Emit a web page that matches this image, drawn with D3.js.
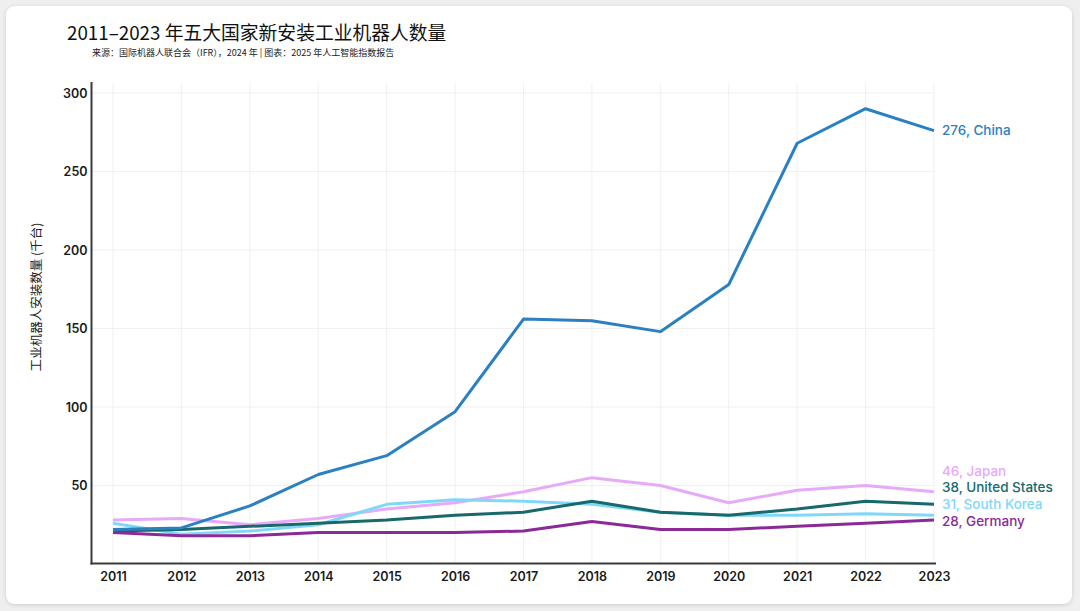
<!DOCTYPE html>
<html><head><meta charset="utf-8">
<script src="https://cdn.jsdelivr.net/npm/d3@7"></script>
<style>
html,body{margin:0;padding:0;background:#efefef;}
svg{display:block;}
</style></head>
<body>
<svg id="chart" width="1080" height="611"></svg>
<script>
const years = [2011,2012,2013,2014,2015,2016,2017,2018,2019,2020,2021,2022,2023];
const china = [22,23,37,57,69,97,156,155,148,178,268,290,276];
const japan = [28,29,25,29,35,39,46,55,50,39,47,50,46];
const unitedStates = [21,22,24,26,28,31,33,40,33,31,35,40,38];
const southKorea = [26,19,21,25,38,41,40,38,33,31,31,32,31];
const germany = [20,18,18,20,20,20,21,27,22,22,24,26,28];
const seriesNames = ["China","Japan","United States","South Korea","Germany"];
const seriesColors = ["#2a80c0","#e6aaf9","#17696b","#80d8f8","#8b2a97"];
const yTicks = [50,100,150,200,250,300];

const svg = d3.select("#chart");
const font = "Inter, 'Noto Sans CJK SC', sans-serif";
const cjk = "'Noto Sans CJK SC', sans-serif";

// card
const defs = svg.append("defs");
const f = defs.append("filter").attr("id","sh").attr("x","-5%").attr("y","-5%").attr("width","110%").attr("height","110%");
f.append("feDropShadow").attr("dx",0).attr("dy",1).attr("stdDeviation",2).attr("flood-color","#000").attr("flood-opacity",0.15);
svg.append("rect").attr("x",6).attr("y",6).attr("width",1066).attr("height",598).attr("rx",9)
  .attr("fill","#fff").attr("filter","url(#sh)");

const x = d3.scaleLinear().domain([2011,2023]).range([113,934]);
const y = d3.scaleLinear().domain([0,300]).range([564,93]);

// gridlines
const g = svg.append("g");
g.selectAll(".vg").data(years).join("line")
  .attr("x1",d=>x(d)).attr("x2",d=>x(d)).attr("y1",83).attr("y2",563)
  .attr("stroke","#f0f0f0").attr("stroke-width",1);
g.selectAll(".hg").data(yTicks).join("line")
  .attr("x1",92).attr("x2",935).attr("y1",d=>y(d)).attr("y2",d=>y(d))
  .attr("stroke","#f0f0f0").attr("stroke-width",1);

// axes
const xAxis = svg.append("g").attr("transform","translate(0,563.5)")
  .call(d3.axisBottom(x).tickValues(years).tickFormat(d3.format("d")).tickSize(0).tickPadding(9));
xAxis.select(".domain").remove();
xAxis.selectAll("text").attr("font-family",font).attr("font-size",12.5).attr("font-weight",600).attr("fill","#1a1a1a");
const yAxis = svg.append("g").attr("transform","translate(91.5,0)")
  .call(d3.axisLeft(y).tickValues(yTicks).tickSize(0).tickPadding(4));
yAxis.select(".domain").remove();
yAxis.selectAll("text").attr("font-family",font).attr("font-size",12.5).attr("font-weight",600).attr("fill","#1a1a1a");

svg.append("line").attr("x1",91.5).attr("x2",91.5).attr("y1",82).attr("y2",564.5).attr("stroke","#3a3a3a").attr("stroke-width",2);
svg.append("line").attr("x1",90.5).attr("x2",936).attr("y1",563.5).attr("y2",563.5).attr("stroke","#3a3a3a").attr("stroke-width",2);

// lines
const allSeries = [china,japan,unitedStates,southKorea,germany];
const line = d3.line().x((d,i)=>x(years[i])).y(d=>y(d));
const drawOrder = [1,3,2,4,0];
drawOrder.forEach(k=>{
  svg.append("path").datum(allSeries[k]).attr("d",line).attr("fill","none")
    .attr("stroke",seriesColors[k]).attr("stroke-width",3).attr("stroke-linejoin","round");
});

// end labels with simple collision avoidance (stack upward from the bottom)
const labels = allSeries.map((s,k)=>({k, v:s[s.length-1], y:y(s[s.length-1])}));
labels.sort((a,b)=>b.y-a.y);
const gap = 16.7;
labels[0].y += 1;
for(let i=1;i<labels.length;i++){
  labels[i].y = Math.min(labels[i].y, labels[i-1].y-gap);
}
labels.forEach(l=>{
  svg.append("text").attr("x",x(2023)+8).attr("y",l.y).attr("dy","0.35em")
    .attr("font-family",font).attr("font-size",13.5).attr("font-weight",500)
    .attr("fill",seriesColors[l.k]).text(l.v+", "+seriesNames[l.k]);
});

// titles
svg.append("text").attr("x",67).attr("y",40).attr("font-family",cjk).attr("font-size",18.8)
  .attr("fill","#111").text("2011–2023 年五大国家新安装工业机器人数量");
svg.append("text").attr("x",92).attr("y",56).attr("font-family",cjk).attr("font-size",9)
  .attr("fill","#222").text("来源：国际机器人联合会（IFR），2024 年 | 图表：2025 年人工智能指数报告");

svg.append("text").attr("transform","translate(41,297) rotate(-90)").attr("text-anchor","middle")
  .attr("font-family",cjk).attr("font-size",12.5).attr("fill","#222").text("工业机器人安装数量 (千台)");
</script>
</body></html>
